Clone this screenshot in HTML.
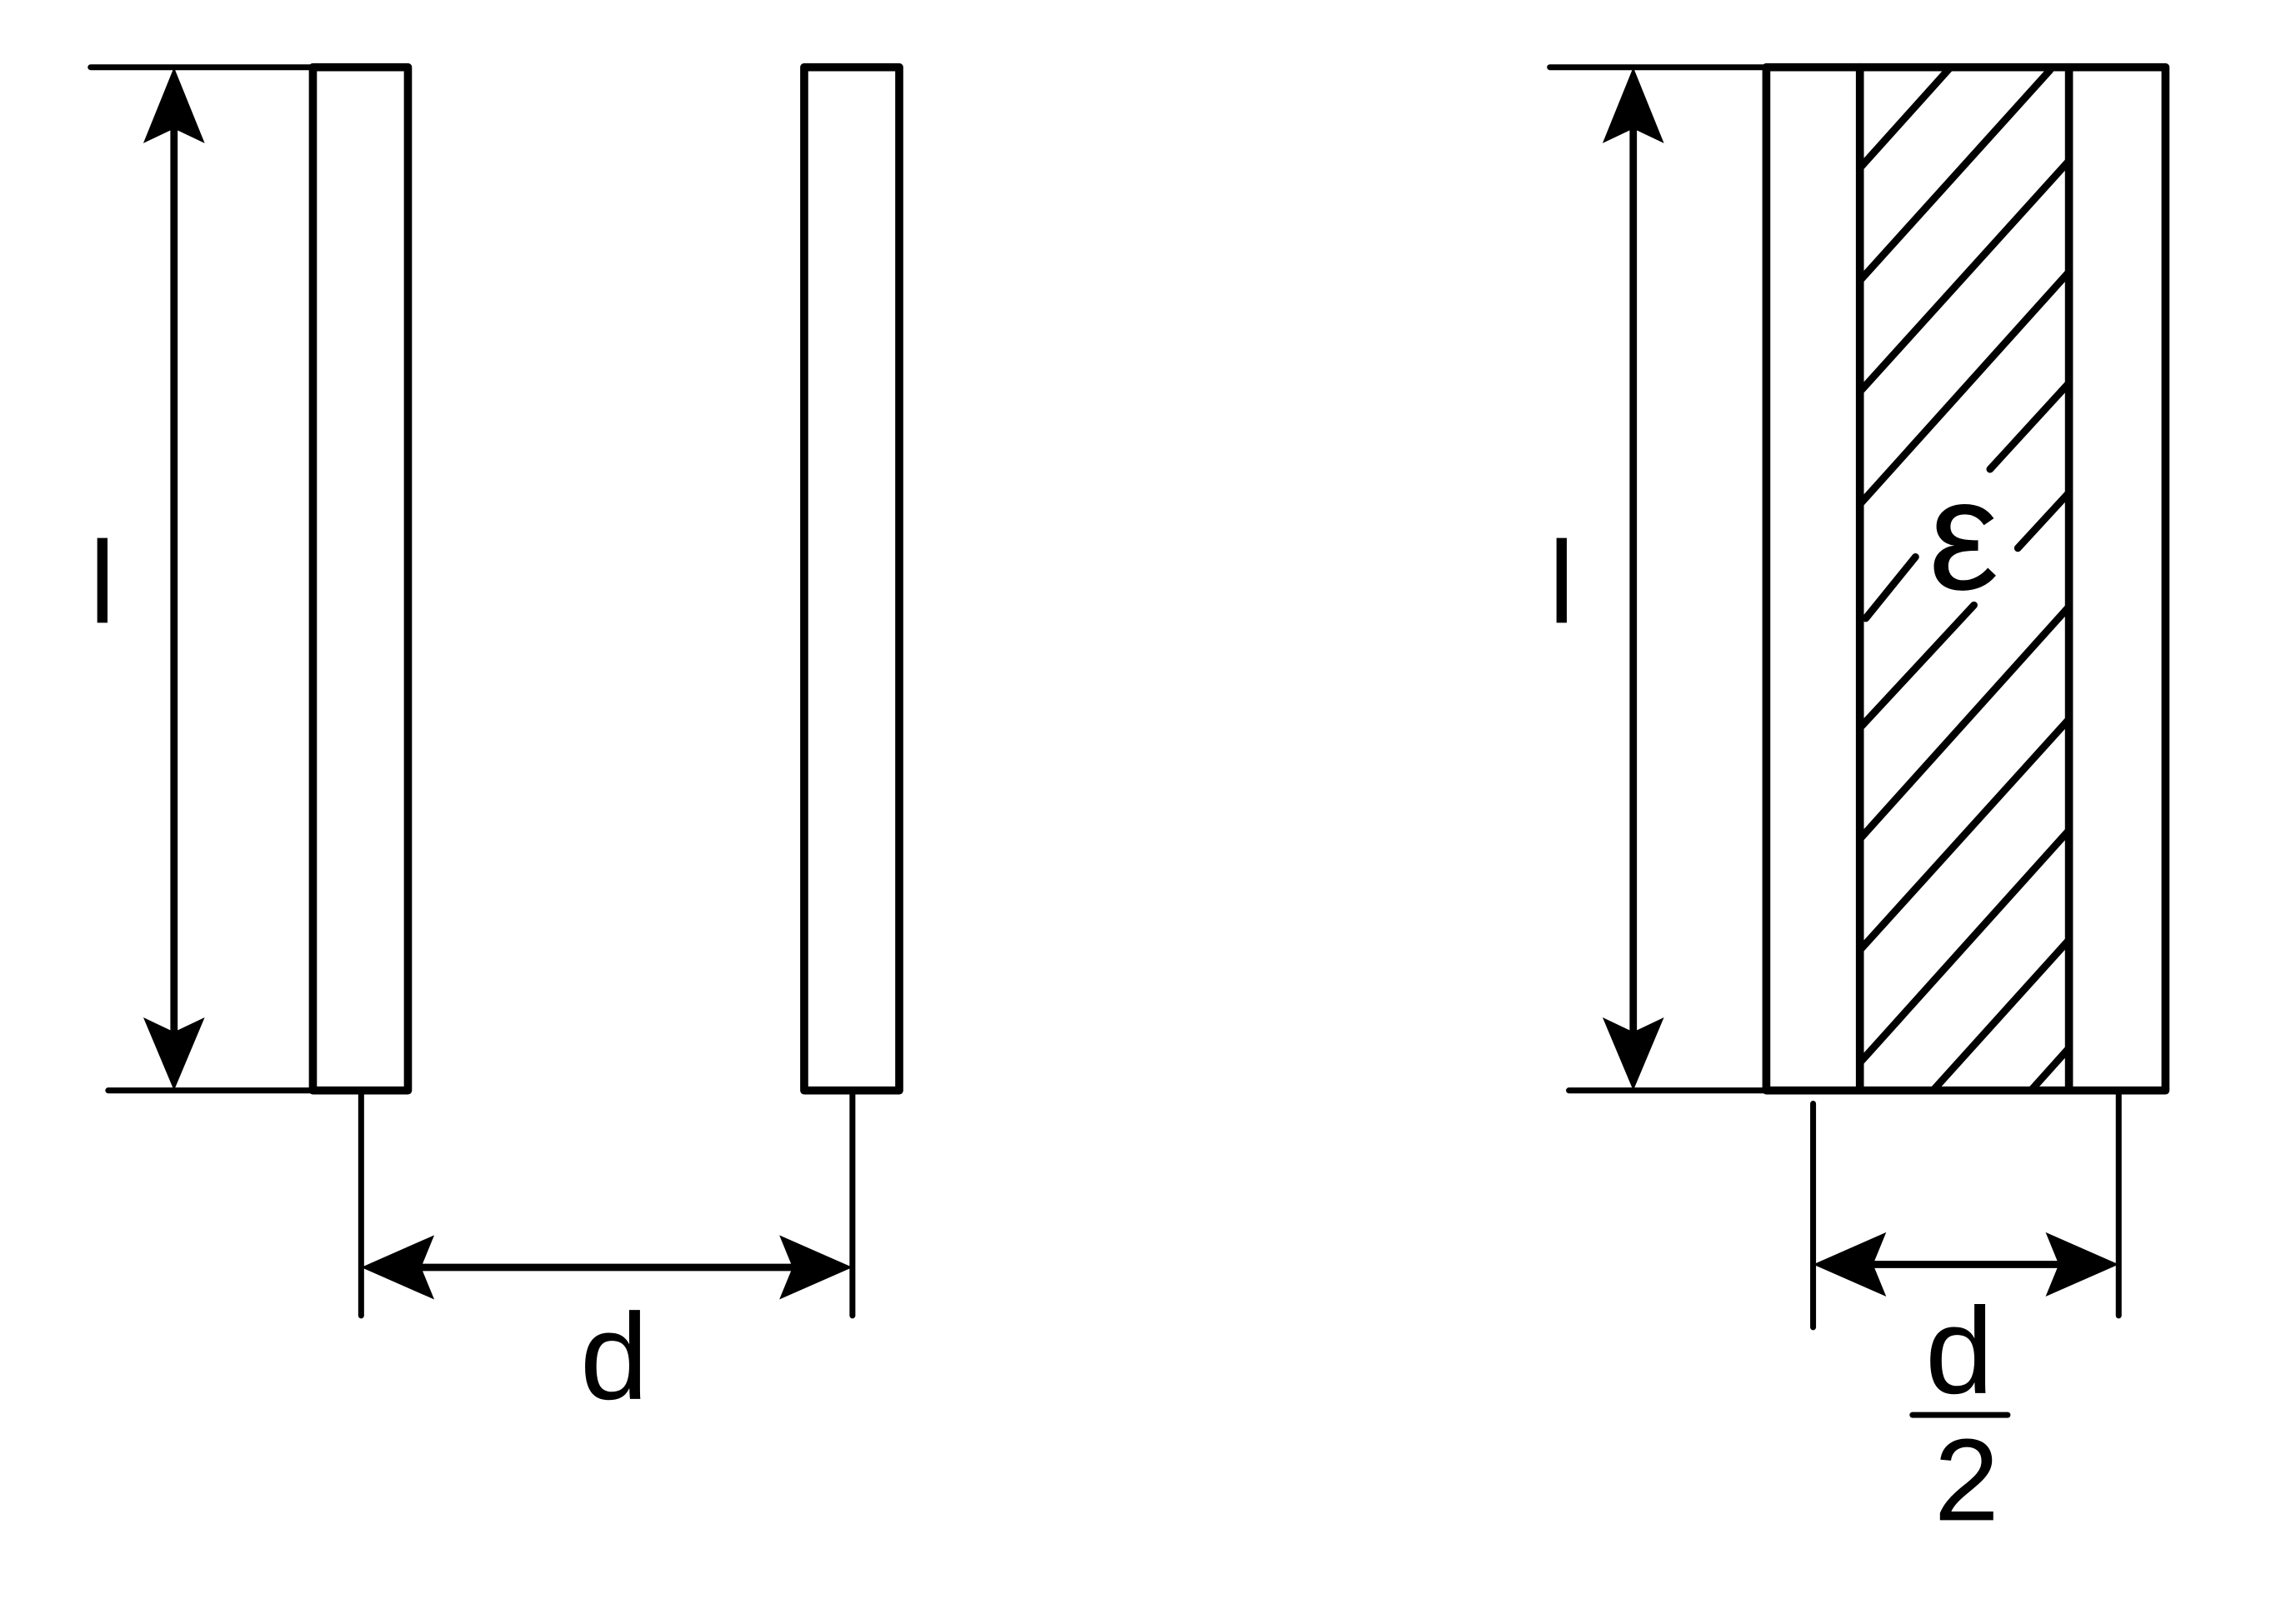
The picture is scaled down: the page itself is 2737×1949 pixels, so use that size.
<!DOCTYPE html>
<html><head><meta charset="utf-8"><style>
html,body{margin:0;padding:0;background:#fff;}
svg{display:block;}
text{font-family:"Liberation Sans",sans-serif;fill:#000;}
</style></head><body>
<svg width="2737" height="1949" viewBox="0 0 1560 1111" preserveAspectRatio="none" xmlns="http://www.w3.org/2000/svg">
<g stroke="#000" stroke-width="5.5" fill="none" stroke-linecap="round" stroke-linejoin="round">
<!-- left diagram -->
<line x1="62" y1="46" x2="214" y2="46" stroke-width="4"/>
<line x1="74" y1="746" x2="214" y2="746" stroke-width="4"/>
<rect x="214" y="46" width="65" height="700"/>
<rect x="550" y="46" width="65" height="700"/>
<line x1="119" y1="80" x2="119" y2="712" stroke-width="5"/>
<line x1="247" y1="746" x2="247" y2="900" stroke-width="4"/>
<line x1="583" y1="746" x2="583" y2="900" stroke-width="4"/>
<line x1="280" y1="867" x2="550" y2="867" stroke-width="5"/>
<!-- right diagram -->
<line x1="1060" y1="46" x2="1208" y2="46" stroke-width="4"/>
<line x1="1073" y1="746" x2="1208" y2="746" stroke-width="4"/>
<rect x="1208" y="46" width="273" height="700"/>
<line x1="1272" y1="46" x2="1272" y2="746"/>
<line x1="1415" y1="46" x2="1415" y2="746"/>
<line x1="1117" y1="80" x2="1117" y2="712" stroke-width="5"/>
<line x1="1240" y1="755" x2="1240" y2="908" stroke-width="4"/>
<line x1="1449" y1="746" x2="1449" y2="900" stroke-width="4"/>
<line x1="1272" y1="865" x2="1416" y2="865" stroke-width="5"/>
<line x1="1308" y1="968" x2="1373" y2="968" stroke-width="4"/>
<!-- hatch -->
<g stroke-width="5">
<line x1="1272" y1="115" x2="1334" y2="46"/>
<line x1="1272" y1="192" x2="1402" y2="48"/>
<line x1="1272" y1="268" x2="1415" y2="110"/>
<line x1="1272" y1="345" x2="1415" y2="186"/>
<line x1="1361" y1="321" x2="1415" y2="262"/>
<line x1="1380" y1="375" x2="1415" y2="337"/>
<line x1="1276" y1="423" x2="1310" y2="381"/>
<line x1="1272" y1="498" x2="1350" y2="414"/>
<line x1="1272" y1="574" x2="1415" y2="415"/>
<line x1="1272" y1="650" x2="1415" y2="492"/>
<line x1="1272" y1="727" x2="1415" y2="568"/>
<line x1="1322" y1="746" x2="1415" y2="643"/>
<line x1="1389" y1="746" x2="1415" y2="717"/>
</g>
</g>
<!-- arrowheads -->
<g fill="#000" stroke="none">
<polygon points="119,46 98,98 119,88 140,98"/>
<polygon points="119,746 98,696 119,706 140,696"/>
<polygon points="247,867 297,845 288,867 297,889"/>
<polygon points="583,867 533,845 542,867 533,889"/>
<polygon points="1117,46 1096,98 1117,88 1138,98"/>
<polygon points="1117,746 1096,696 1117,706 1138,696"/>
<polygon points="1240,865 1290,843 1281,865 1290,887"/>
<polygon points="1449,865 1399,843 1408,865 1399,887"/>
</g>
<!-- labels -->
<text x="70" y="426" font-size="80" text-anchor="middle">l</text>
<text x="1068" y="426" font-size="80" text-anchor="middle">l</text>
<text x="420" y="957" font-size="84" text-anchor="middle">d</text>
<text x="1340" y="953" font-size="84" text-anchor="middle">d</text>
<text x="1345" y="1040" font-size="80" text-anchor="middle">2</text>
<text x="1343" y="403" font-size="108" text-anchor="middle">ε</text>
</svg>
</body></html>
